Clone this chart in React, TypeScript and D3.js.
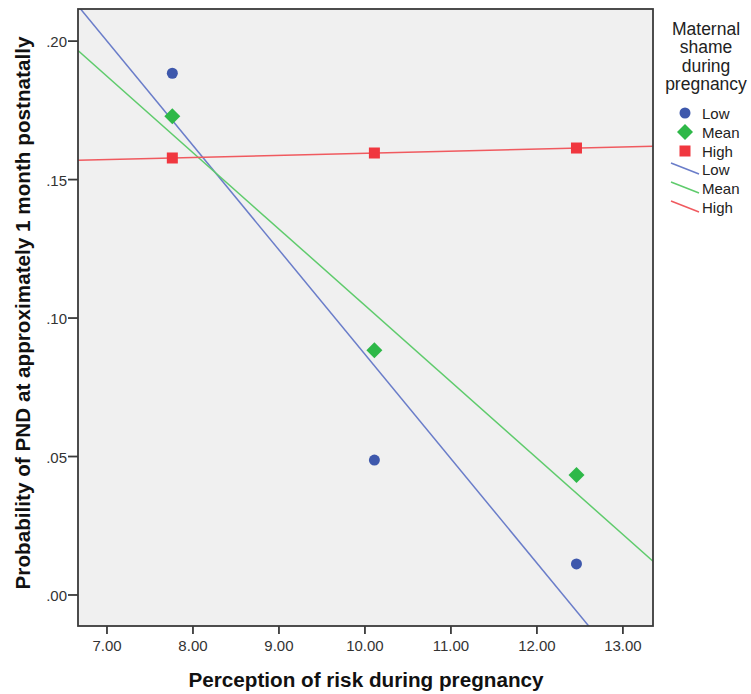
import React from 'react';
import * as d3 from 'd3';

// x positions: mean - 1 SD, mean, mean + 1 SD of perception of risk
const riskLevels = [7.76, 10.11, 12.46];
const lowShame = [0.1884, 0.0487, 0.0112];
const meanShame = [0.1729, 0.0884, 0.0433];
const highShame = [0.1578, 0.1596, 0.1614];
const xTicks = [7, 8, 9, 10, 11, 12, 13];
const yTicks = [0, 0.05, 0.1, 0.15, 0.2];
const groupNames = ['Low', 'Mean', 'High'];
const legendTitle = ['Maternal', 'shame', 'during', 'pregnancy'];

const markerColors = ['#3e58ac', '#2eb848', '#f0373f'];
const lineColors = ['#6a7dc9', '#5fcb6c', '#f05a5f'];

const W = 751;
const H = 694;
const plot = { left: 78, top: 9, right: 653, bottom: 626 };

// least squares fit through the plotted points
function fit(xs: number[], ys: number[]) {
  const mx = d3.mean(xs)!;
  const my = d3.mean(ys)!;
  const sxy = d3.sum(xs, (x, i) => (x - mx) * (ys[i] - my));
  const sxx = d3.sum(xs, x => (x - mx) * (x - mx));
  const b = sxy / sxx;
  return (x: number) => my + b * (x - mx);
}

function Marker({ kind, cx, cy, color }: { kind: number; cx: number; cy: number; color: string }) {
  if (kind === 0) return <circle cx={cx} cy={cy} r={5.5} fill={color} />;
  if (kind === 1) {
    const s = 8;
    return <path d={`M${cx},${cy - s}L${cx + s},${cy}L${cx},${cy + s}L${cx - s},${cy}Z`} fill={color} />;
  }
  return <rect x={cx - 5.5} y={cy - 5.5} width={11} height={11} fill={color} />;
}

export default function App() {
  const x = d3.scaleLinear().domain([6.663, 13.35]).range([plot.left, plot.right]);
  const y = d3.scaleLinear().domain([-0.0112, 0.2116]).range([plot.bottom, plot.top]);
  const series = [lowShame, meanShame, highShame];
  const [x0, x1] = x.domain();

  const line = d3.line<[number, number]>().x(d => x(d[0])).y(d => y(d[1]));

  const font = 'Arial, "Liberation Sans", sans-serif';

  return (
    <svg width={W} height={H} style={{ position: 'absolute', left: 0, top: 0, fontFamily: font }}>
      <defs>
        <clipPath id="plotclip">
          <rect x={plot.left} y={plot.top} width={plot.right - plot.left} height={plot.bottom - plot.top} />
        </clipPath>
      </defs>
      <rect x={0} y={0} width={W} height={H} fill="#fff" />
      <rect x={plot.left} y={plot.top} width={plot.right - plot.left} height={plot.bottom - plot.top} fill="#f0f0f0" />

      <g clipPath="url(#plotclip)">
        {series.map((ys, i) => {
          const f = fit(riskLevels, ys);
          return (
            <path key={i} d={line([[x0, f(x0)], [x1, f(x1)]])!} stroke={lineColors[i]} strokeWidth={1.5} fill="none" />
          );
        })}
        {series.map((ys, i) =>
          ys.map((v, j) => <Marker key={`${i}-${j}`} kind={i} cx={x(riskLevels[j])} cy={y(v)} color={markerColors[i]} />)
        )}
      </g>

      <rect x={plot.left} y={plot.top} width={plot.right - plot.left} height={plot.bottom - plot.top} fill="none" stroke="#3a3a3a" strokeWidth={1.8} />

      {yTicks.map(t => (
        <g key={t} transform={`translate(${plot.left},${y(t)})`}>
          <line x1={-10} x2={0} stroke="#3a3a3a" strokeWidth={1.8} />
          <text x={-11} dy="0.42em" textAnchor="end" fontSize={15} fill="#333">{d3.format('.2f')(t).replace(/^0/, '')}</text>
        </g>
      ))}
      {xTicks.map(t => (
        <g key={t} transform={`translate(${x(t)},${plot.bottom})`}>
          <line y1={0} y2={8} stroke="#3a3a3a" strokeWidth={1.8} />
          <text y={25} textAnchor="middle" fontSize={15} fill="#333">{d3.format('.2f')(t)}</text>
        </g>
      ))}

      <text x={366} y={687} textAnchor="middle" fontSize={20.7} fontWeight="bold" fill="#111">
        Perception of risk during pregnancy
      </text>
      <text transform="translate(30,313) rotate(-90)" textAnchor="middle" fontSize={20.7} fontWeight="bold" fill="#111">
        Probability of PND at approximately 1 month postnatally
      </text>

      <g fontSize={17.5} fill="#222" textAnchor="middle">
        {legendTitle.map((s, i) => (
          <text key={s} x={706} y={35 + i * 18.3}>{s}</text>
        ))}
      </g>
      <g fontSize={15} fill="#222">
        {groupNames.map((n, i) => (
          <g key={`m${n}`}>
            <Marker kind={i} cx={685} cy={113 + i * 19} color={markerColors[i]} />
            <text x={702} y={119 + i * 19}>{n}</text>
          </g>
        ))}
        {groupNames.map((n, i) => (
          <g key={`l${n}`}>
            <line x1={671} y1={163 + i * 19} x2={699} y2={174 + i * 19} stroke={lineColors[i]} strokeWidth={1.5} />
            <text x={702} y={175 + i * 19}>{n}</text>
          </g>
        ))}
      </g>
    </svg>
  );
}
